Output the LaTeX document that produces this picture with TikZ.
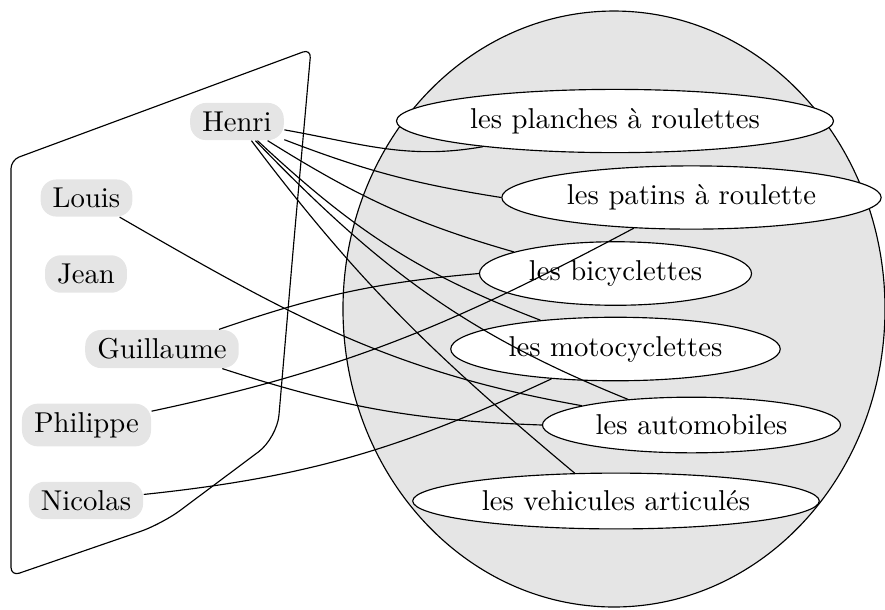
\documentclass[tikz,border=0pt]{standalone}
\usepackage{fontspec}
\usetikzlibrary{shapes.geometric}
\begin{document}
\begin{tikzpicture}[x=0.3484pt,y=-0.3484pt,
  nm/.style={fill=gray!20, rounded corners=5.5pt, inner xsep=4.2pt, inner ysep=3pt},
  it/.style={ellipse, draw, fill=white, inner sep=3.33pt},
  lk/.style={line width=0.4pt}]
\useasboundingbox (0,0) rectangle (885,609);
% big set
\draw[fill=gray!20] (614,309) ellipse [x radius=94.42pt, y radius=103.82pt];
% left set
\draw[rounded corners=3pt] (294,240) -- (311,49) -- (11,160) -- (11,576) [rounded corners=8pt] -- (162,524) -- (277,438) -- cycle;
% names
\node[nm] (henri) at (237,121.5) {Henri};
\node[nm] (louis) at (86.5,198) {Louis};
\node[nm] (jean) at (86,274) {Jean};
\node[nm] (guillaume) at (162,349) {Guillaume};
\node[nm] (philippe) at (86.5,425) {Philippe};
\node[nm] (nicolas) at (86,500.5) {Nicolas};
% items
\node[it] (planches) at (615,121) {les planches à roulettes};
\node[it] (patins) at (691.5,197.5) {les patins à roulette};
\node[it] (bicy) at (615.5,273.5) {les bicyclettes};
\node[it] (moto) at (615.5,349) {les motocyclettes};
\node[it] (auto) at (691.5,425) {les automobiles};
\node[it] (vehic) at (616,501) {les vehicules articulés};
% links
\draw[lk] (henri) to[out=-10,in=190] (planches.191);
\draw[lk] (henri) to[out=-21,in=171] (patins.west);
\draw[lk] (henri) to[out=-32,in=164] (bicy.168);
\draw[lk] (henri) to[out=-43,in=159] (moto);
\draw[lk] (henri) to[out=-46,in=158] (auto);
\draw[lk] (henri) to[out=-53,in=140] (vehic.146);
\draw[lk] (louis) to[out=-30,in=170] (auto);
\draw[lk] (guillaume) to[out=19,in=185] (bicy.west);
\draw[lk] (guillaume) to[out=-18,in=178] (auto.west);
\draw[lk] (philippe) to[out=12,in=208] (patins);
\draw[lk] (nicolas) to[out=6,in=205] (moto);
\end{tikzpicture}
\end{document}
